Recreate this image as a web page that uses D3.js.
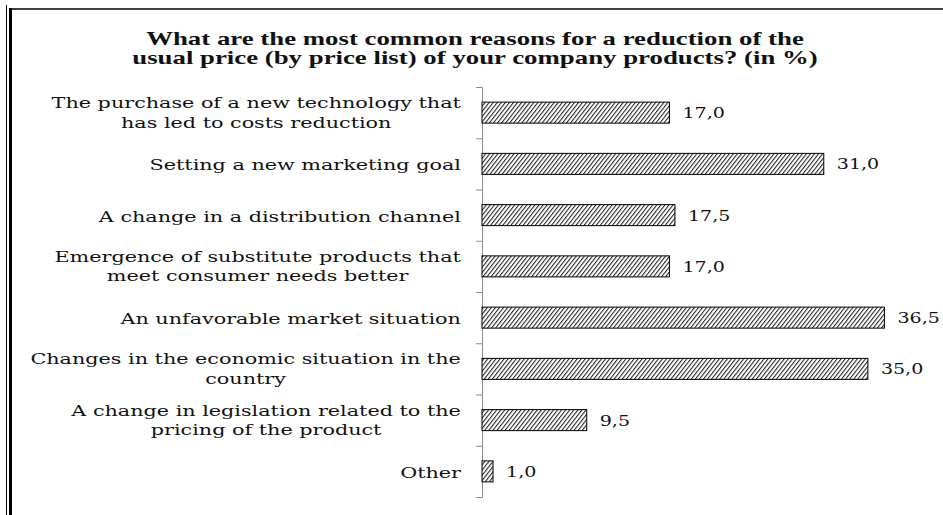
<!DOCTYPE html>
<html>
<head>
<meta charset="utf-8">
<script src="https://cdn.jsdelivr.net/npm/d3@7"></script>
<style>
  body { margin: 0; background: #fff; }
  svg { display: block; }
</style>
</head>
<body>
<svg id="chart" width="943" height="515"></svg>
<script>
// chart data
const titleLines = [
  'What are the most common reasons for a reduction of the',
  'usual price (by price list) of your company products? (in %)'
];
const categories = [
  ['The purchase of a new technology that', 'has led to costs reduction'],
  ['Setting a new marketing goal'],
  ['A change in a distribution channel'],
  ['Emergence of substitute products that', 'meet consumer needs better'],
  ['An unfavorable market situation'],
  ['Changes in the economic situation in the', 'country'],
  ['A change in legislation related to the', 'pricing of the product'],
  ['Other']
];
const values = [17.0, 31.0, 17.5, 17.0, 36.5, 35.0, 9.5, 1.0];

const svg = d3.select('#chart');
const width = +svg.attr('width');
const stretch = 1.43; // the source picture is widened, so is its text

// frame of the figure
svg.append('line').attr('x1', 6.5).attr('x2', 6.5).attr('y1', 5).attr('y2', 515)
  .attr('stroke', '#000').attr('stroke-width', 1);
svg.append('line').attr('x1', 10.5).attr('x2', 10.5).attr('y1', 8).attr('y2', 515)
  .attr('stroke', '#000').attr('stroke-width', 3);
svg.append('line').attr('x1', 9).attr('x2', width).attr('y1', 9).attr('y2', 9)
  .attr('stroke', '#000').attr('stroke-width', 1.6);

// hatch pattern for bars
const pat = svg.append('defs').append('pattern')
  .attr('id', 'hatch')
  .attr('patternUnits', 'userSpaceOnUse')
  .attr('width', 3.2).attr('height', 3.2)
  .attr('patternTransform', 'rotate(38)');
pat.append('rect').attr('width', 3.2).attr('height', 3.2).attr('fill', '#fff');
pat.append('line').attr('x1', 0.5).attr('x2', 0.5).attr('y1', 0).attr('y2', 3.2)
  .attr('stroke', '#222').attr('stroke-width', 1.1);

// title
svg.append('g').selectAll('text')
  .data(titleLines)
  .enter().append('text')
    .attr('transform', (d, i) => `translate(475, ${45 + i * 18.5}) scale(1.49,1)`)
    .attr('text-anchor', 'middle')
    .style('font-family', '"Liberation Serif", serif')
    .style('font-weight', 'bold')
    .style('font-size', '18px')
    .attr('fill', '#111')
    .text(d => d);

const plotTop = 87, plotBottom = 497, axisX = 482;

const yScale = d3.scaleBand()
  .domain(d3.range(categories.length))
  .range([plotTop, plotBottom])
  .paddingInner(0.59)
  .paddingOuter(0.295);

const xScale = d3.scaleLinear()
  .domain([0, 40])
  .range([axisX, axisX + 441]);

// ticks sit between categories
const tickScale = d3.scaleLinear()
  .domain([0, categories.length])
  .range([plotTop, plotBottom]);

const axisG = svg.append('g')
  .attr('transform', `translate(${axisX}, 0)`)
  .call(d3.axisLeft(tickScale).ticks(categories.length).tickFormat('').tickSizeOuter(0).tickSize(6));
axisG.selectAll('line, path').attr('stroke', '#8c8c8c');

// bars
svg.append('g').selectAll('rect')
  .data(values)
  .enter().append('rect')
    .attr('x', xScale(0))
    .attr('y', (d, i) => yScale(i))
    .attr('width', d => xScale(d) - xScale(0))
    .attr('height', yScale.bandwidth())
    .attr('fill', 'url(#hatch)')
    .attr('stroke', '#000')
    .attr('stroke-width', 1);

// value labels
svg.append('g').selectAll('text')
  .data(values)
  .enter().append('text')
    .attr('transform', (d, i) =>
      `translate(${xScale(d) + 13}, ${yScale(i) + yScale.bandwidth() / 2 + 5.5}) scale(1.36,1)`)
    .style('font-family', '"DejaVu Serif", serif')
    .style('font-size', '14px')
    .attr('fill', '#111')
    .text(d => d.toFixed(1).replace('.', ','));

// category labels, each block right aligned, lines centred within it
const labelRight = 461;
categories.forEach((lines, i) => {
  const cy = yScale(i) + yScale.bandwidth() / 2;
  const g = svg.append('g');
  const texts = g.selectAll('text')
    .data(lines)
    .enter().append('text')
      .attr('text-anchor', 'middle')
      .style('font-family', '"DejaVu Serif", serif')
      .style('font-size', '14.5px')
      .attr('fill', '#111')
      .text(d => d);
  const blockW = d3.max(texts.nodes(), n => n.getComputedTextLength()) * stretch;
  const cx = labelRight - blockW / 2;
  const y0 = lines.length === 1 ? cy + 6.5 : cy - 4.5;
  texts.attr('transform', (d, j) => `translate(${cx}, ${y0 + j * 19.5}) scale(${stretch},1)`);
});
</script>
</body>
</html>
